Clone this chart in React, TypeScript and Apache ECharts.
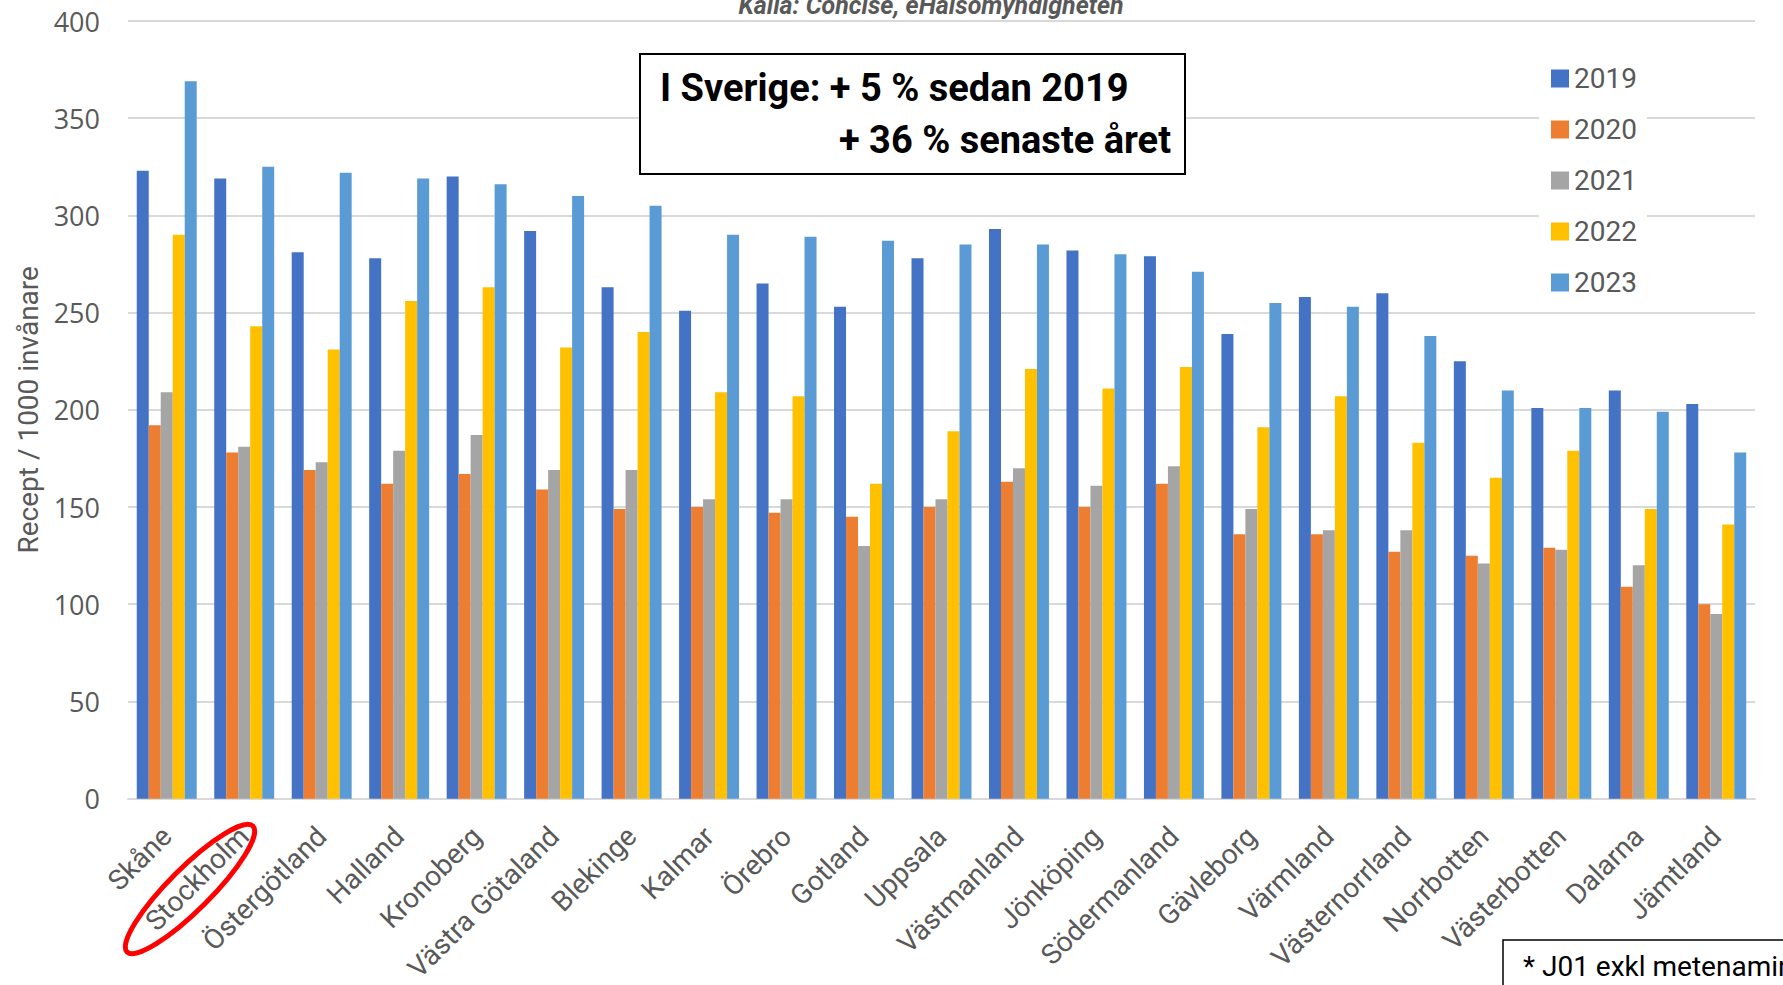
import React, { useEffect, useRef } from "react";
import * as echarts from "echarts";

const categories = [
  "Skåne", "Stockholm", "Östergötland", "Halland", "Kronoberg", "Västra Götaland",
  "Blekinge", "Kalmar", "Örebro", "Gotland", "Uppsala", "Västmanland", "Jönköping",
  "Södermanland", "Gävleborg", "Värmland", "Västernorrland", "Norrbotten",
  "Västerbotten", "Dalarna", "Jämtland",
];

const years = ["2019", "2020", "2021", "2022", "2023"];

const v2019 = [323, 319, 281, 278, 320, 292, 263, 251, 265, 253, 278, 293, 282, 279, 239, 258, 260, 225, 201, 210, 203];
const v2020 = [192, 178, 169, 162, 167, 159, 149, 150, 147, 145, 150, 163, 150, 162, 136, 136, 127, 125, 129, 109, 100];
const v2021 = [209, 181, 173, 179, 187, 169, 169, 154, 154, 130, 154, 170, 161, 171, 149, 138, 138, 121, 128, 120, 95];
const v2022 = [290, 243, 231, 256, 263, 232, 240, 209, 207, 162, 189, 221, 211, 222, 191, 207, 183, 165, 179, 149, 141];
const v2023 = [369, 325, 322, 319, 316, 310, 305, 290, 289, 287, 285, 285, 280, 271, 255, 253, 238, 210, 201, 199, 178];

const seriesValues = [v2019, v2020, v2021, v2022, v2023];
const colors = ["#4472C4", "#ED7D31", "#A5A5A5", "#FFC000", "#5B9BD5"];

const yTicks = { min: 0, max: 400, interval: 50 };

export default function App() {
  const ref = useRef<HTMLDivElement>(null);

  useEffect(() => {
    document.body.style.margin = "0";
    if (!ref.current) return;
    const chart = echarts.init(ref.current, null, { renderer: "svg" });
    const grey = "#595959";
    chart.setOption({
      animation: false,
      backgroundColor: "#ffffff",
      grid: { left: 128, right: 28, top: 21, bottom: 185, containLabel: false },
      legend: {
        data: years,
        orient: "vertical",
        left: 1539,
        top: 54,
        padding: [8, 10, 8, 12],
        backgroundColor: "#ffffff",
        itemWidth: 18,
        itemHeight: 18,
        itemGap: 18,
        icon: "rect",
        textStyle: { fontSize: 28, lineHeight: 33, color: grey, fontFamily: "Roboto" },
        z: 10,
      },
      xAxis: {
        type: "category",
        data: categories,
        axisTick: { show: false },
        axisLine: { lineStyle: { color: "#d9d9d9", width: 2 } },
        axisLabel: {
          interval: 0,
          rotate: 45,
          margin: 33,
          fontSize: 28,
          color: grey,
          fontFamily: "Roboto",
        },
      },
      yAxis: {
        type: "value",
        min: yTicks.min,
        max: yTicks.max,
        interval: yTicks.interval,
        name: "Recept / 1000 invånare",
        nameLocation: "middle",
        nameGap: 86,
        nameTextStyle: { fontSize: 28, color: grey, fontFamily: "Roboto" },
        axisLabel: { fontSize: 27, color: grey, margin: 28, fontFamily: "Open Sans" },
        splitLine: { lineStyle: { color: "#d9d9d9", width: 2 } },
        axisLine: { show: false },
        axisTick: { show: false },
      },
      series: years.map((y, i) => ({
        name: y,
        type: "bar",
        data: seriesValues[i],
        itemStyle: { color: colors[i] },
        barGap: "0%",
        barCategoryGap: "22.6%",
      })),
      graphic: [
        {
          type: "text",
          x: 931,
          y: 5,
          z: 20,
          style: {
            text: "Källa: Concise, eHälsomyndigheten",
            fontSize: 25,
            fontWeight: "bold",
            fontStyle: "italic",
            fontFamily: "Roboto",
            fill: grey,
            align: "center",
            verticalAlign: "middle",
          },
        },
        {
          type: "rect",
          z: 20,
          shape: { x: 640, y: 54, width: 545, height: 120 },
          style: { fill: "#ffffff", stroke: "#000000", lineWidth: 2 },
        },
        {
          type: "text",
          x: 660,
          y: 88,
          z: 21,
          style: {
            text: "I Sverige: + 5 % sedan 2019",
            fontSize: 38,
            fontWeight: "bold",
            fontFamily: "Roboto",
            fill: "#000000",
            align: "left",
            verticalAlign: "middle",
          },
        },
        {
          type: "text",
          x: 1171,
          y: 140,
          z: 21,
          style: {
            text: "+ 36 % senaste året",
            fontSize: 38,
            fontWeight: "bold",
            fontFamily: "Roboto",
            fill: "#000000",
            align: "right",
            verticalAlign: "middle",
          },
        },
        {
          type: "rect",
          z: 20,
          shape: { x: 1503, y: 940, width: 300, height: 80 },
          style: { fill: "#ffffff", stroke: "#000000", lineWidth: 1.5 },
        },
        {
          type: "text",
          x: 1523,
          y: 966,
          z: 21,
          style: {
            text: "* J01 exkl metenamin",
            fontSize: 28,
            fontFamily: "Roboto",
            fill: "#000000",
            align: "left",
            verticalAlign: "middle",
          },
        },
        {
          type: "ellipse",
          x: 190,
          y: 889,
          rotation: Math.PI / 4,
          z: 22,
          shape: { cx: 0, cy: 0, rx: 89, ry: 21 },
          style: { fill: "none", stroke: "#ff0000", lineWidth: 5 },
        },
      ],
    });
    return () => chart.dispose();
  }, []);

  return <div ref={ref} style={{ width: 1783, height: 985 }} />;
}
